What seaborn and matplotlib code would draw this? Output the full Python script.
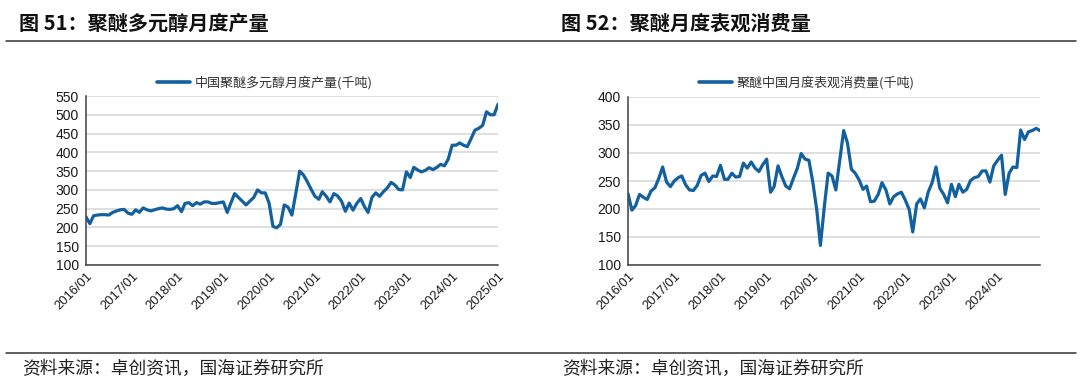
import numpy as np
import pandas as pd
import matplotlib
matplotlib.use("Agg")
import matplotlib.pyplot as plt
import matplotlib.dates as mdates
from matplotlib.lines import Line2D
import seaborn as sns

# ---------------- data ----------------
titles = ["图 51：聚醚多元醇月度产量", "图 52：聚醚月度表观消费量"]
legend_labels = ["中国聚醚多元醇月度产量(千吨)", "聚醚中国月度表观消费量(千吨)"]
source_text = "资料来源：卓创资讯，国海证券研究所"

prod_start = "2016-01"
production = [
    228, 210, 231, 233, 234, 234, 233, 240, 244, 247, 248, 238,
    235, 247, 240, 252, 247, 244, 247, 250, 252, 249, 248, 250,
    258, 242, 264, 266, 258, 266, 262, 268, 268, 264, 264, 266,
    268, 240, 264, 290, 280, 270, 260, 270, 280, 300, 292, 292,
    265, 203, 199, 208, 260, 254, 233, 290, 350, 340, 322, 302,
    283, 275, 295, 283, 268, 290, 284, 270, 243, 265, 246, 264,
    277, 255, 240, 280, 292, 283, 295, 305, 320, 313, 301, 300,
    348, 333, 360, 353, 348, 352, 359, 354, 360, 368, 364, 382,
    419, 419, 425, 419, 415, 437, 459, 464, 472, 508, 500, 500,
    528,
]

cons_start = "2016-01"
consumption = [
    227, 198, 206, 226, 221, 217, 232, 238, 255, 275, 248, 240,
    250, 256, 259, 243, 234, 233, 242, 260, 264, 249, 259, 258,
    278, 253, 253, 264, 257, 258, 282, 273, 284, 273, 267, 279,
    289, 230, 240, 277, 258, 241, 236, 255, 273, 299, 289, 287,
    248, 199, 135, 204, 264, 259, 234, 287, 340, 318, 271, 264,
    252, 235, 241, 213, 214, 226, 247, 234, 209, 222, 227, 230,
    216, 199, 159, 209, 218, 202, 230, 247, 275, 237, 226, 211,
    244, 222, 244, 230, 235, 251, 256, 258, 268, 268, 248, 277,
    287, 296, 226, 264, 275, 274, 341, 324, 338, 340, 344, 340,
]

prod_ticks = ["2016/01", "2017/01", "2018/01", "2019/01", "2020/01",
              "2021/01", "2022/01", "2023/01", "2024/01", "2025/01"]
cons_ticks = ["2016/01", "2017/01", "2018/01", "2019/01", "2020/01",
              "2021/01", "2022/01", "2023/01", "2024/01"]
prod_yticks = [100, 150, 200, 250, 300, 350, 400, 450, 500, 550]
cons_yticks = [100, 150, 200, 250, 300, 350, 400]

# ---------------- style ----------------
sns.set_theme(style="white")
plt.rcParams['font.family'] = ['Liberation Sans', 'Noto Sans CJK SC', 'DejaVu Sans']
CJK = ['Noto Sans CJK SC', 'DejaVu Sans']
LINE_COLOR = "#12609e"

W, H = 1080, 390
fig = plt.figure(figsize=(W / 100, H / 100), dpi=100)


def fx(px):
    return px / W


def fy(py):
    return 1 - py / H


def draw_panel(rect, start, values, ticks, yticks, label, legend_center):
    ax = fig.add_axes(rect)
    dates = pd.date_range(start=start, periods=len(values), freq="MS")
    df = pd.DataFrame({"date": dates, "value": values})
    sns.lineplot(data=df, x="date", y="value", ax=ax, color=LINE_COLOR,
                 linewidth=2.3, label=label)
    ax.set_xlim(dates[0], dates[-1])
    ax.set_ylim(yticks[0], yticks[-1])
    ax.set_yticks(yticks)
    tick_dates = [pd.Timestamp(t.replace("/", "-") + "-01") for t in ticks]
    ax.set_xticks(tick_dates)
    ax.set_xticklabels(ticks, rotation=45, ha="right", va="top",
                       rotation_mode="anchor", fontsize=9.4, color="#1a1a1a")
    ax.tick_params(axis="y", labelsize=10, colors="#1a1a1a", direction="out",
                   length=3, width=1, pad=2)
    ax.tick_params(axis="x", direction="in", length=5, width=1, pad=4,
                   colors="#1a1a1a")
    ax.set_xlabel("")
    ax.set_ylabel("")
    ax.grid(axis="y", color="#d9d9d9", linewidth=1.2)
    ax.grid(axis="x", visible=False)
    ax.set_axisbelow(True)
    for s in ["top", "right"]:
        ax.spines[s].set_visible(False)
    for s in ["left", "bottom"]:
        ax.spines[s].set_color("#404040")
        ax.spines[s].set_linewidth(1.1)
    ax.tick_params(axis="both", which="both", color="#404040")
    leg = ax.legend(loc="center", bbox_to_anchor=legend_center,
                    bbox_transform=fig.transFigure, frameon=False,
                    handlelength=2.5, handletextpad=0.4,
                    prop={"family": CJK, "size": 9.4})
    for t in leg.get_texts():
        t.set_color("#333333")
    for h in leg.get_lines():
        h.set_linewidth(2.6)
    return ax


# left panel
draw_panel([fx(86), fy(265), fx(498) - fx(86), fy(96) - fy(265)],
           prod_start, production, prod_ticks, prod_yticks,
           legend_labels[0], (fx(265), fy(83)))
# right panel
draw_panel([fx(628), fy(265), fx(1040) - fx(628), fy(97) - fy(265)],
           cons_start, consumption, cons_ticks, cons_yticks,
           legend_labels[1], (fx(807), fy(83)))

# titles
fig.text(fx(19), fy(23), titles[0], fontsize=14.5, fontweight="bold",
         family=CJK, ha="left", va="center", color="#111111")
fig.text(fx(561), fy(23), titles[1], fontsize=14.5, fontweight="bold",
         family=CJK, ha="left", va="center", color="#111111")

# separator lines
fig.add_artist(Line2D([fx(6), fx(1076)], [fy(41), fy(41)], color="#333333",
                      linewidth=1.1, transform=fig.transFigure))
fig.add_artist(Line2D([fx(6), fx(1076)], [fy(353), fy(353)], color="#333333",
                      linewidth=1.1, transform=fig.transFigure))

# source notes
fig.text(fx(22), fy(369), source_text, fontsize=12.8, family=CJK,
         ha="left", va="center", color="#222222")
fig.text(fx(562), fy(369), source_text, fontsize=12.8, family=CJK,
         ha="left", va="center", color="#222222")

fig.savefig("out.png", dpi=100)
